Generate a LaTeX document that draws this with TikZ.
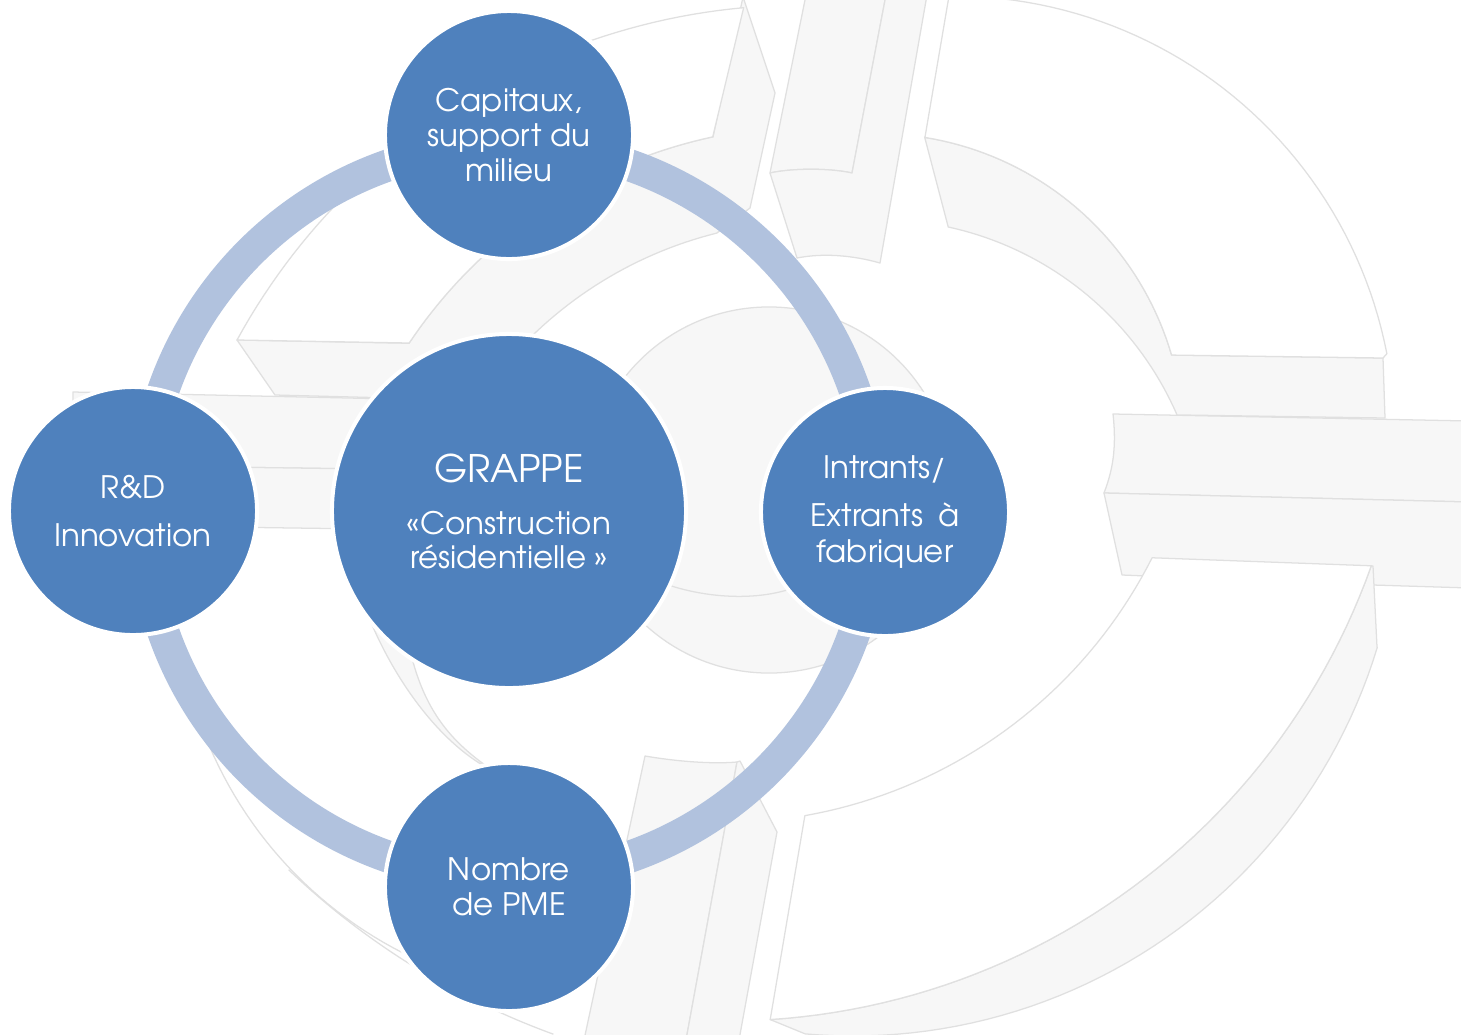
\documentclass[tikz,border=0pt]{standalone}
\usepackage{fontspec}
\newfontfamily\advfont{texgyreadventor-regular.otf}
\definecolor{nodeblue}{HTML}{4F81BD}
\definecolor{ringblue}{HTML}{B1C2DE}
\definecolor{bgfill}{HTML}{F7F7F7}
\definecolor{bgline}{HTML}{E0E0E0}
\begin{document}
\begin{tikzpicture}[x=0.025cm, y=-0.025cm,
  bgside/.style={fill=bgfill, draw=bgline, line width=0.9pt, line join=round},
  bgface/.style={fill=white, draw=bgline, line width=0.9pt, line join=round},
  bgedge/.style={draw=bgline, line width=0.9pt},
  sat/.style={circle, fill=nodeblue, draw=white, line width=2.85pt, minimum size=6.2cm,
    inner sep=0pt, text=white, align=center, font=\advfont\fontsize{22}{24.9}\selectfont},
  hub/.style={sat, minimum size=8.85cm, font=\advfont\fontsize{22}{24.2}\selectfont},
  ringline/.style={draw=ringblue, line width=22.8pt}]
\useasboundingbox (0,0) rectangle (1461,1034);
\fill[white] (0,0) rectangle (1461,1034);
\begin{scope}
\clip (0,0) rectangle (1461,1034);
% bullseye disc
\draw[bgside] (769,490) circle [radius=4.575cm];
\draw[bgedge] (650,578) .. controls (700,600) and (765,603) .. (805,583);
% left bar
\draw[bgside] (73,392) -- (440,400) -- (440,470) -- (73,465) -- cycle;
\draw[bgside] (73,465) -- (440,470) -- (440,530) -- (73,525) -- cycle;
% right bar
\draw[bgside] (1113,414) .. controls (1117,450) and (1112,472) .. (1104,493) -- (1470,502) -- (1470,421) -- cycle;
\draw[bgside] (1104,493) -- (1470,502) -- (1470,588) -- (1373,585) -- (1122,575) -- cycle;
% top vertical bar
\draw[bgside] (806,-5) -- (886,-5) -- (852,173) .. controls (830,168) and (792,168) .. (770,173) -- cycle;
\draw[bgside] (770,173) -- (797,258) .. controls (822,253) and (852,255) .. (880,263) -- (927,-5) -- (886,-5) -- (852,173) .. controls (830,168) and (792,168) .. (770,173);
% bottom vertical bar
\draw[bgside] (645,756) .. controls (680,762) and (715,764) .. (737,762) -- (686,1040) -- (584,1040) -- cycle;
\draw[bgside] (737,762) -- (740,761) -- (777,832) -- (739,1040) -- (686,1040) -- cycle;
% top-right ring piece
\draw[bgside] plot[domain=-80.9:-16.3, samples=40] ({876+308*cos(\x)},{441.5+308*sin(\x)}) -- (1383,358) -- (1385,418) -- plot[domain=-23.5:-77.7, samples=40] ({879+325*cos(\x)},{544.5+325*sin(\x)}) -- cycle;
\draw[bgface] (949,-4) -- (925,137) -- plot[domain=-80.9:-16.3, samples=40] ({876+308*cos(\x)},{441.5+308*sin(\x)}) -- (1383,358) -- plot[domain=-11:-92, samples=50] ({953+442*cos(\x)},{438+442*sin(\x)}) -- cycle;
% top-left ring piece
\draw[bgside] (237,340) -- (275,395) -- (470,400) -- plot[domain=222:256, samples=30] ({815+406*cos(\x)},{627+406*sin(\x)}) -- (750,208) -- (775,93) -- (743,-3) -- (713,137) -- plot[domain=257.9:213.7, samples=40] ({815+488*cos(\x)},{614+488*sin(\x)}) -- cycle;
\draw[bgface] (237,340) -- (409,343) -- plot[domain=213.7:257.9, samples=40] ({815+488*cos(\x)},{614+488*sin(\x)}) -- plot[domain=264.8:208.7, samples=50] ({802+644*cos(\x)},{649+644*sin(\x)}) -- cycle;
% bottom-right ring piece
\draw[bgside] (1373,566) -- (1377,647) -- plot[domain=16.9:95, samples=50] ({853+548*cos(\x)},{488+548*sin(\x)}) -- plot[domain=86.3:19.6, samples=50] ({726+685*cos(\x)},{336+685*sin(\x)}) -- cycle;
\draw[bgface] plot[domain=26.8:80, samples=40] ({721+483*cos(\x)},{340+483*sin(\x)}) -- plot[domain=86.3:19.6, samples=50] ({726+685*cos(\x)},{336+685*sin(\x)}) -- cycle;
% lower-left pieces
\draw[bgside] (370,620) .. controls (395,680) and (440,745) .. (495,772) .. controls (455,745) and (425,715) .. (410,650) -- cycle;
\draw[bgedge] plot[domain=160:100, samples=40] ({591+415*cos(\x)},{583+415*sin(\x)});
\draw[bgedge] plot[domain=133.7:110, samples=40] ({813+759*cos(\x)},{321+759*sin(\x)});
\end{scope}
% connecting ring
\draw[ringline] (509,511) circle [radius=9.15cm];
% nodes
\node[hub] (grappe) at (509,511) {{\fontsize{27}{24.2}\selectfont GRAPPE}\\[12.8pt]«Construction\\résidentielle »};
\node[sat] (capitaux) at (509,135) {Capitaux,\\support du\\milieu};
\node[sat, font=\advfont\fontsize{22}{34.6}\selectfont] (rd) at (133,511) {R\&D\\Innovation};
\node[sat, font=\advfont\fontsize{22}{26}\selectfont] (intrants) at (885,512) {Intrants/\\[8.1pt]Extrants\hspace{0.5em}à\\fabriquer};
\node[sat] (pme) at (509,887) {Nombre\\de PME};
\end{tikzpicture}
\end{document}
